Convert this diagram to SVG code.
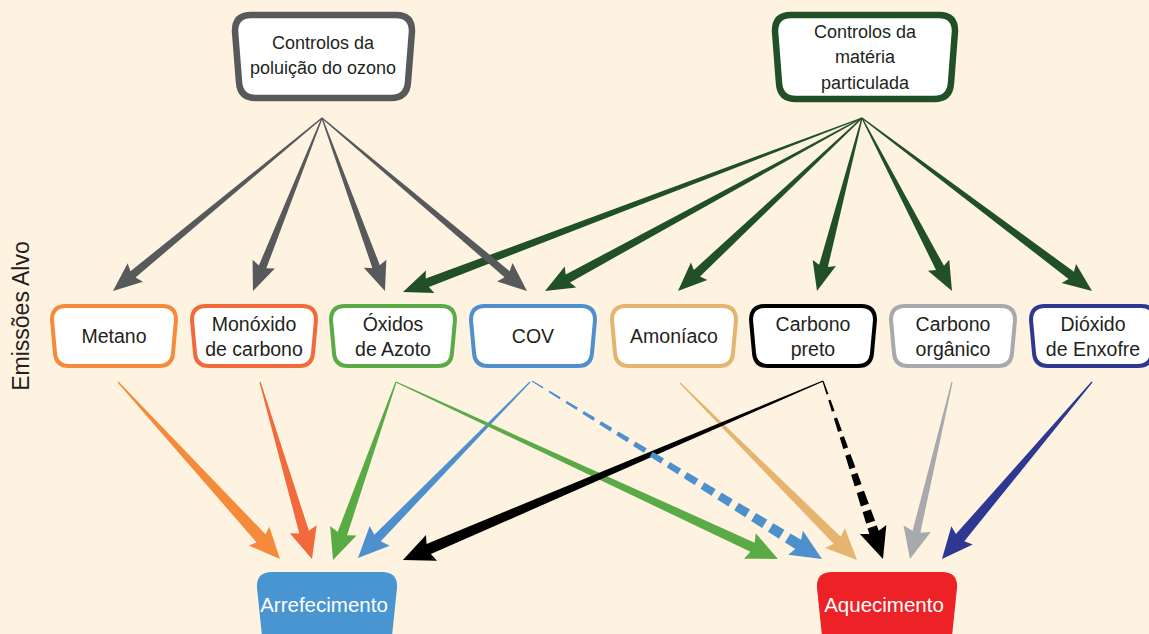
<svg xmlns="http://www.w3.org/2000/svg" width="1149" height="634" viewBox="0 0 1149 634">
<style>
text{font-family:"Liberation Sans",Arial,sans-serif;fill:#231F20;text-anchor:middle}
.t18{font-size:18px}
.t19{font-size:19.5px}
.big{font-size:20.5px;fill:#fff}
.ebox{fill:#fff;stroke-width:4}
.gray{fill:#58595B}
.dg{fill:#215027}
</style>
<defs>
<path id="ebox" d="M14,0L110,0Q124,0 124,14L121,47Q120,60 107,60L17,60Q4,60 3,47L0,14Q0,0 14,0Z"/>
<mask id="mg" maskUnits="userSpaceOnUse" x="-10" y="-30" width="370" height="60">
<line x1="0" y1="0" x2="312" y2="0" stroke="#fff" stroke-width="30" stroke-dasharray="13 7"/>
<rect x="306" y="-20" width="50" height="40" fill="#fff"/>
</mask>
<mask id="mi" maskUnits="userSpaceOnUse" x="-10" y="-30" width="220" height="60">
<line x1="0" y1="0" x2="160" y2="0" stroke="#fff" stroke-width="30" stroke-dasharray="14 6 12 7"/>
<rect x="154" y="-20" width="50" height="40" fill="#fff"/>
</mask>
</defs>
<rect width="1149" height="634" fill="#FDF3E0"/>

<text class="t19" style="font-size:23px" transform="translate(29 316) rotate(-90)">Emissões Alvo</text>

<g id="connectors">
<g id="pm-arrows" class="dg">
<path transform="translate(862 118) rotate(159.24)" d="M0,-0.6L464.9,-4.5L461.9,-12L490.9,0L461.9,12L464.9,4.5L0,0.6Z"/>
<path transform="translate(862 118) rotate(151.38)" d="M0,-0.6L335.1,-4.5L332.1,-12L361.1,0L332.1,12L335.1,4.5L0,0.6Z"/>
<path transform="translate(862 118) rotate(136.76)" d="M0,-0.6L226.6,-4.5L223.6,-12L252.6,0L223.6,12L226.6,4.5L0,0.6Z"/>
<path transform="translate(862 118) rotate(104.58)" d="M0,-0.6L152.8,-4.5L149.8,-12L178.8,0L149.8,12L152.8,4.5L0,0.6Z"/>
<path transform="translate(862 118) rotate(62.52)" d="M0,-0.6L169,-4.5L166,-12L195,0L166,12L169,4.5L0,0.6Z"/>
<path transform="translate(862 118) rotate(36.94)" d="M0,-0.6L261.8,-4.5L258.8,-12L287.8,0L258.8,12L261.8,4.5L0,0.6Z"/>
</g>
<g id="ozone-arrows" class="gray">
<path transform="translate(322 118) rotate(140.4)" d="M0,-0.6L245.3,-4L242.3,-12L271.3,0L242.3,12L245.3,4L0,0.6Z"/>
<path transform="translate(322 118) rotate(111.75)" d="M0,-0.6L160.3,-4L157.3,-12L186.3,0L157.3,12L160.3,4L0,0.6Z"/>
<path transform="translate(322 118) rotate(70)" d="M0,-0.6L158.1,-4L155.1,-12L184.1,0L155.1,12L158.1,4L0,0.6Z"/>
<path transform="translate(322 118) rotate(40.16)" d="M0,-0.6L242.2,-4L239.2,-12L268.2,0L239.2,12L242.2,4L0,0.6Z"/>
</g>
<g id="effect-arrows">
<path fill="#F58A3B" transform="translate(118 382) rotate(47.54)" d="M0,-0.6L211.9,-6L208.9,-14L239.9,0L208.9,14L211.9,6L0,0.6Z"/>
<path fill="#F06A3B" transform="translate(260 382) rotate(73.63)" d="M0,-0.6L156.5,-5L153.5,-14L184.5,0L153.5,14L156.5,5L0,0.6Z"/>
<path fill="#5AAB46" transform="translate(396 382) rotate(109.49)" d="M0,-0.6L160.8,-5L157.8,-14L188.8,0L157.8,14L160.8,5L0,0.6Z"/>
<path fill="#4E90CE" transform="translate(530 382) rotate(134.34)" d="M0,-0.6L218.1,-4.5L215.1,-14L246.1,0L215.1,14L218.1,4.5L0,0.6Z"/>
<path fill="#5AAB46" transform="translate(396 382) rotate(24.86)" d="M0,-0.6L393,-5L390,-14L421,0L390,14L393,5L0,0.6Z"/>
<path fill="#E6B46E" transform="translate(680 383) rotate(45)" d="M0,-0.6L222.3,-5L219.3,-14L250.3,0L219.3,14L222.3,5L0,0.6Z"/>
<path fill="#000" transform="translate(823 381) rotate(156.92)" d="M0,-0.6L428.6,-5.5L425.6,-14L456.6,0L425.6,14L428.6,5.5L0,0.6Z"/>
<g transform="translate(532 381) rotate(31.54)"><path fill="#4E90CE" mask="url(#mg)" d="M0,-0.6L312.3,-5.5L309.3,-14L340.3,0L309.3,14L312.3,5.5L0,0.6Z"/></g>
<g transform="translate(823 381) rotate(71.37)"><path fill="#000" mask="url(#mi)" d="M0,-0.6L159.8,-5L156.8,-14L187.8,0L156.8,14L159.8,5L0,0.6Z"/></g>
<path fill="#A7A9AC" transform="translate(952 382) rotate(103.35)" d="M0,-0.6L153.9,-4L150.9,-14L181.9,0L150.9,14L153.9,4L0,0.6Z"/>
<path fill="#2E3791" transform="translate(1092 382) rotate(130.28)" d="M0,-0.6L204,-5.5L201,-14L232,0L201,14L204,5.5L0,0.6Z"/>
</g>
</g>

<g id="ozone-control">
<path transform="translate(235 15)" d="M16,0L161,0Q177,0 177,16L173,67Q172,83 156,83L21,83Q5,83 4,67L0,16Q0,0 16,0Z" fill="#fff" stroke="#58595B" stroke-width="6.5"/>
<text class="t18" x="323" y="49">Controlos da</text>
<text class="t18" x="323" y="74">poluição do ozono</text>
</g>
<g id="pm-control">
<path transform="translate(775 15)" d="M16,0L164,0Q180,0 180,16L176,68Q175,84 159,84L21,84Q5,84 4,68L0,16Q0,0 16,0Z" fill="#fff" stroke="#215027" stroke-width="6.5"/>
<text class="t18" x="865" y="38">Controlos da</text>
<text class="t18" x="865" y="63">matéria</text>
<text class="t18" x="865" y="89">particulada</text>
</g>

<g id="metano"><use href="#ebox" x="52" y="306" class="ebox" stroke="#F58A3B"/><text class="t19" x="114" y="343">Metano</text></g>
<g id="monoxido"><use href="#ebox" x="192" y="306" class="ebox" stroke="#F06A3B"/><text class="t19" x="254" y="331">Monóxido</text><text class="t19" x="254" y="356">de carbono</text></g>
<g id="oxidos"><use href="#ebox" x="331" y="306" class="ebox" stroke="#5AAB46"/><text class="t19" x="393" y="331">Óxidos</text><text class="t19" x="393" y="356">de Azoto</text></g>
<g id="cov"><use href="#ebox" x="471" y="306" class="ebox" stroke="#4E90CE"/><text class="t19" x="533" y="343">COV</text></g>
<g id="amoniaco"><use href="#ebox" x="612" y="306" class="ebox" stroke="#E6B46E"/><text class="t19" x="674" y="343">Amoníaco</text></g>
<g id="carbono-preto"><use href="#ebox" x="751" y="306" class="ebox" stroke="#000"/><text class="t19" x="813" y="331">Carbono</text><text class="t19" x="813" y="356">preto</text></g>
<g id="carbono-organico"><use href="#ebox" x="891" y="306" class="ebox" stroke="#A7A9AC"/><text class="t19" x="953" y="331">Carbono</text><text class="t19" x="953" y="356">orgânico</text></g>
<g id="dioxido"><use href="#ebox" x="1031" y="306" class="ebox" stroke="#2E3791"/><text class="t19" x="1093" y="331">Dióxido</text><text class="t19" x="1093" y="356">de Enxofre</text></g>

<g id="arrefecimento">
<path d="M272,572L382,572Q398,572 397,588L392,636L262,636L257,588Q256,572 272,572Z" fill="#4895D1"/>
<text class="big" x="324" y="612">Arrefecimento</text>
</g>
<g id="aquecimento">
<path d="M832,572L942,572Q958,572 957,588L952,636L822,636L817,588Q816,572 832,572Z" fill="#EC2227"/>
<text class="big" x="884" y="612">Aquecimento</text>
</g>
</svg>
